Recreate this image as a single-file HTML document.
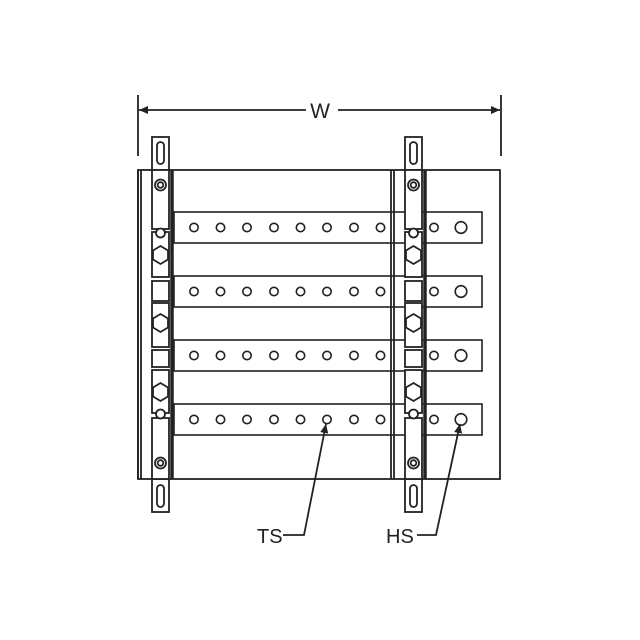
<!DOCTYPE html>
<html><head><style>html,body{margin:0;padding:0;background:#fff}svg{display:block}</style></head>
<body>
<svg width="640" height="640" viewBox="0 0 640 640" xmlns="http://www.w3.org/2000/svg">
<defs>
<marker id="ar" viewBox="0 0 10 10" refX="10" refY="5" markerWidth="14" markerHeight="9" orient="auto-start-reverse" markerUnits="userSpaceOnUse"><path d="M0,0.5 L10,5 L0,9.5 Z" fill="#222"/></marker>
<g id="strut" fill="#fff" stroke="#222" stroke-width="1.8">
  <line x1="-14" y1="170" x2="-14" y2="479"/>
  <line x1="-11" y1="170" x2="-11" y2="479"/>
  <line x1="20" y1="170" x2="20" y2="479" stroke-width="3.5"/>
  <rect x="0" y="137" width="17" height="33"/>
  <rect x="5" y="142" width="7" height="22" rx="3.5"/>
  <rect x="0" y="479" width="17" height="33"/>
  <rect x="5" y="485" width="7" height="22" rx="3.5"/>
  <rect x="0" y="170" width="17" height="59"/>
  <rect x="0" y="232" width="17" height="45"/>
  <rect x="0" y="281" width="17" height="20"/>
  <rect x="0" y="303" width="17" height="44"/>
  <rect x="0" y="350" width="17" height="17"/>
  <rect x="0" y="370" width="17" height="43"/>
  <rect x="0" y="418" width="17" height="61"/>
  <circle cx="8.5" cy="185" r="5.5"/><circle cx="8.5" cy="185" r="2.8"/>
  <circle cx="8.5" cy="463" r="5.5"/><circle cx="8.5" cy="463" r="2.8"/>
  <circle cx="8.5" cy="233" r="4.5"/>
  <circle cx="8.5" cy="414" r="4.5"/>
  <polygon points="8.5,246 16,250.5 16,259.5 8.5,264 1,259.5 1,250.5"/>
  <polygon points="8.5,314 16,318.5 16,327.5 8.5,332 1,327.5 1,318.5"/>
  <polygon points="8.5,383 16,387.5 16,396.5 8.5,401 1,396.5 1,387.5"/>
</g>
<g id="row" fill="#fff" stroke="#222" stroke-width="1.6">
  <rect x="174" y="0" width="308" height="31"/>
  <circle cx="194" cy="15.5" r="4.2"/><circle cx="220.5" cy="15.5" r="4.2"/><circle cx="247" cy="15.5" r="4.2"/>
  <circle cx="274" cy="15.5" r="4.2"/><circle cx="300.5" cy="15.5" r="4.2"/><circle cx="327" cy="15.5" r="4.2"/>
  <circle cx="354" cy="15.5" r="4.2"/><circle cx="380.5" cy="15.5" r="4.2"/>
  <circle cx="434" cy="15.5" r="4.2"/><circle cx="461" cy="15.5" r="5.8"/>
</g>
</defs>
<g stroke="#222" stroke-width="1.8" fill="none">
<line x1="138" y1="95" x2="138" y2="156"/>
<line x1="501" y1="95" x2="501" y2="156"/>
<line x1="139" y1="110" x2="306" y2="110" marker-start="url(#ar)"/>
<line x1="338" y1="110" x2="500" y2="110" marker-end="url(#ar)"/>
</g>
<text x="320" y="118" font-family="Liberation Sans, sans-serif" font-size="21" text-anchor="middle" fill="#222">W</text>
<rect x="138" y="170" width="362" height="309" fill="#fff" stroke="#222" stroke-width="1.8"/>
<use href="#row" y="212"/>
<use href="#row" y="276"/>
<use href="#row" y="340"/>
<use href="#row" y="404"/>
<use href="#strut" x="152"/>
<use href="#strut" x="405"/>
<g stroke="#222" stroke-width="1.8" fill="none">
<polyline points="283,535 304,535 326,424" marker-end="url(#ar)"/>
<polyline points="417,535 436,535 460,424" marker-end="url(#ar)"/>
</g>
<g font-family="Liberation Sans, sans-serif" font-size="20" fill="#222">
<text x="257" y="543">TS</text>
<text x="386" y="543">HS</text>
</g>
</svg>
</body></html>
